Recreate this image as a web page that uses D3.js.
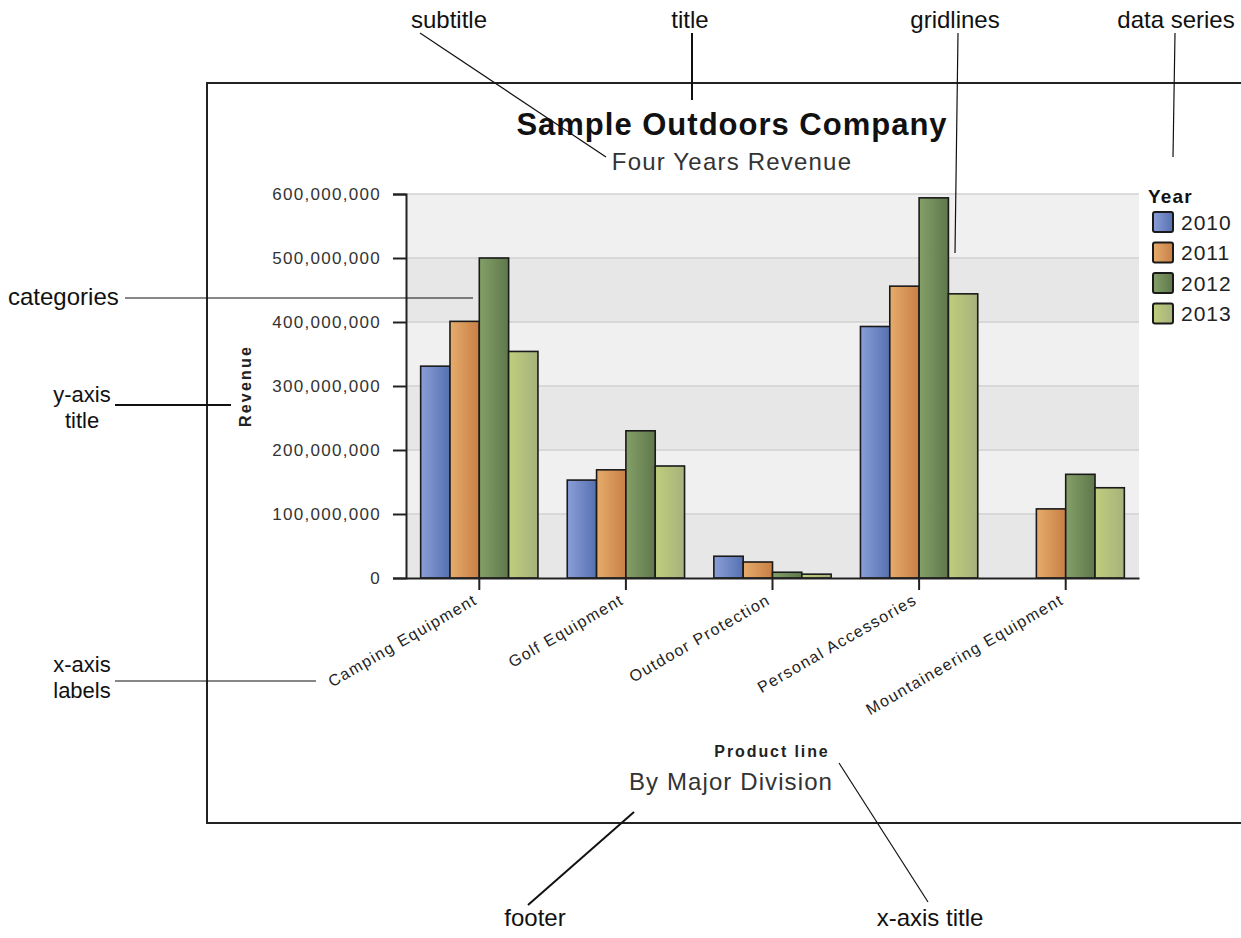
<!DOCTYPE html>
<html><head><meta charset="utf-8">
<script src="https://cdn.jsdelivr.net/npm/d3@7"></script>
<style>body{margin:0;background:#fff}svg{display:block}text{font-family:"Liberation Sans",Arial,sans-serif}</style>
</head><body>
<svg id="c" width="1241" height="938"></svg>
<script>
const categories = ["Camping Equipment","Golf Equipment","Outdoor Protection","Personal Accessories","Mountaineering Equipment"];
const years = ["2010","2011","2012","2013"];
const rev2010 = [331e6, 153e6, 34e6, 393e6, null];
const rev2011 = [401e6, 169e6, 25e6, 456e6, 108e6];
const rev2012 = [500e6, 230e6, 9e6, 594e6, 162e6];
const rev2013 = [354e6, 175e6, 6e6, 444e6, 141e6];
const yTicks = [0,100e6,200e6,300e6,400e6,500e6,600e6];
const seriesValues = [rev2010, rev2011, rev2012, rev2013];
const colorStops = [["#8a9fd9","#5670b0"],["#e6ac6c","#c87f45"],["#84a068","#5f774b"],["#bfce7c","#a6b27c"]];

const svg = d3.select("#c");
const defs = svg.append("defs");
colorStops.forEach((c,i)=>{
  const g = defs.append("linearGradient").attr("id","g"+i).attr("x1","0").attr("x2","1").attr("y1","0").attr("y2","0");
  g.append("stop").attr("offset","0").attr("stop-color",c[0]);
  g.append("stop").attr("offset","1").attr("stop-color",c[1]);
});

const L=406,R=1139,T=194,B=578;
const y = d3.scaleLinear().domain([0,600e6]).range([B,T]);
const x0 = d3.scaleBand().domain(categories).range([L,R]);
const x1 = d3.scaleBand().domain(years).range([x0.bandwidth()*0.1, x0.bandwidth()*0.9]);

// frame
svg.append("path").attr("d",`M1245,83 H207 V823 H1245`).attr("fill","none").attr("stroke","#222").attr("stroke-width",2);

// bands
for(let i=0;i<yTicks.length-1;i++){
  svg.append("rect").attr("x",L).attr("y",y(yTicks[i+1])).attr("width",R-L).attr("height",y(yTicks[i])-y(yTicks[i+1]))
    .attr("fill", i%2===0 ? "#e7e7e7" : "#f0f0f0");
}
// gridlines
svg.append("g").selectAll("line").data(yTicks.slice(1)).join("line")
  .attr("x1",L).attr("x2",R).attr("y1",d=>y(d)).attr("y2",d=>y(d)).attr("stroke","#d2d2d2").attr("stroke-width",1.5);

// y axis
const ya = svg.append("g").attr("transform",`translate(${L},0)`)
  .call(d3.axisLeft(y).tickValues(yTicks).tickFormat(d3.format(",")).tickSize(13).tickPadding(12));
ya.select(".domain").attr("stroke","#222").attr("stroke-width",2);
ya.selectAll(".tick line").attr("stroke","#222").attr("stroke-width",2);
ya.selectAll("text").attr("font-size",17).attr("letter-spacing",1.3).attr("fill","#333");

// bars
const groups = svg.append("g").selectAll("g").data(categories).join("g")
  .attr("transform",d=>`translate(${x0(d)},0)`);
groups.selectAll("rect").data((d,ci)=>years.map((yr,si)=>({yr,si,v:seriesValues[si][ci]})).filter(e=>e.v!=null))
  .join("rect")
  .attr("x",d=>x1(d.yr)).attr("width",x1.bandwidth())
  .attr("y",d=>y(d.v)).attr("height",d=>B-y(d.v))
  .attr("fill",d=>`url(#g${d.si})`).attr("stroke","#1a1a1a").attr("stroke-width",1.6);

// x axis
const xa = svg.append("g").attr("transform",`translate(0,${B})`)
  .call(d3.axisBottom(x0).tickSize(12).tickSizeOuter(0));
xa.select(".domain").attr("stroke","#222").attr("stroke-width",2);
xa.selectAll(".tick line").attr("stroke","#222").attr("stroke-width",2);
xa.selectAll("text").attr("font-size",16).attr("letter-spacing",1.4).attr("fill","#222")
  .attr("text-anchor","end").attr("dy",0).attr("y",0)
  .attr("transform","translate(-1,25) rotate(-30)");

// titles
svg.append("text").attr("x",732).attr("y",135).attr("text-anchor","middle").attr("font-size",31).attr("letter-spacing",1).attr("font-weight","bold").attr("fill","#111").text("Sample Outdoors Company");
svg.append("text").attr("x",732).attr("y",170).attr("text-anchor","middle").attr("font-size",24).attr("letter-spacing",1.2).attr("fill","#333").text("Four Years Revenue");
svg.append("text").attr("transform","translate(251,386) rotate(-90)").attr("text-anchor","middle").attr("font-size",16).attr("letter-spacing",2.2).attr("font-weight","bold").attr("fill","#222").text("Revenue");
svg.append("text").attr("x",772).attr("y",757).attr("text-anchor","middle").attr("font-size",16).attr("letter-spacing",1.9).attr("font-weight","bold").attr("fill","#222").text("Product line");
svg.append("text").attr("x",731).attr("y",790).attr("text-anchor","middle").attr("font-size",24).attr("letter-spacing",1.1).attr("fill","#333").text("By Major Division");

// legend
const lg = svg.append("g");
lg.append("text").attr("x",1148).attr("y",203).attr("font-size",19).attr("letter-spacing",1.2).attr("font-weight","bold").attr("fill","#111").text("Year");
years.forEach((yr,i)=>{
  const cy = 222 + i*30.5;
  lg.append("rect").attr("x",1153).attr("y",cy-10).attr("width",20).attr("height",20).attr("rx",2)
    .attr("fill",`url(#g${i})`).attr("stroke","#1a1a1a").attr("stroke-width",2);
  lg.append("text").attr("x",1181).attr("y",cy+7.5).attr("font-size",21).attr("letter-spacing",1).attr("fill","#222").text(yr);
});

// annotations
const ann = svg.append("g").attr("font-size",24).attr("fill","#111");
function t(x,yy,s,anchor="middle",fs=24){ann.append("text").attr("x",x).attr("y",yy).attr("text-anchor",anchor).attr("font-size",fs).text(s);}
function l(x1_,y1_,x2_,y2_,w=1.2){svg.append("line").attr("x1",x1_).attr("y1",y1_).attr("x2",x2_).attr("y2",y2_).attr("stroke","#111").attr("stroke-width",w);}
t(449,28,"subtitle"); l(420,33,606,157);
t(690,28,"title"); l(692,33,692,100,2);
t(955,28,"gridlines"); l(958,33,955,253);
t(1176,28,"data series"); l(1175,33,1173,157);
t(8,305,"categories","start"); l(125,298,473,298);
t(82,402,"y-axis","middle",22); t(82,428,"title","middle",22); l(115,405,231,405,2);
t(82,672,"x-axis","middle",22); t(82,698,"labels","middle",22); l(115,681,316,681);
t(535,926,"footer"); l(528,905,634,812,2);
t(930,926,"x-axis title"); l(928,902,839,763);
</script>
</body></html>
